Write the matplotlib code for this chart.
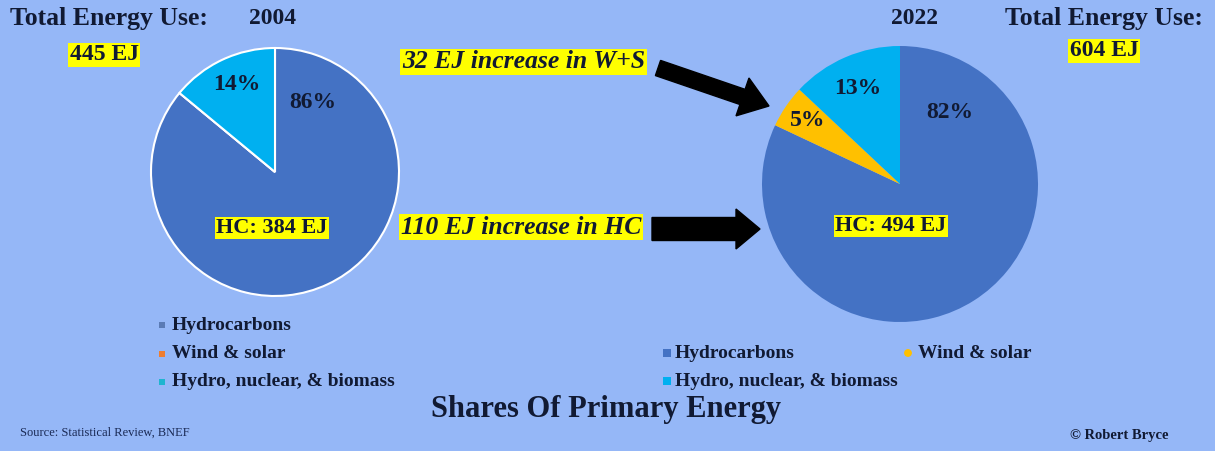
import matplotlib
matplotlib.use("Agg")
import matplotlib.pyplot as plt
from matplotlib.patches import FancyArrow

# data
categories = ['Hydrocarbons', 'Wind & solar', 'Hydro, nuclear, & biomass']
shares_2004 = [86, 0, 14]
shares_2022 = [82, 5, 13]
hc_ej = {'2004': 384, '2022': 494}
total_ej = {'2004': 445, '2022': 604}
increase_ws = 32
increase_hc = 110

colors = ['#4472C4', '#FFC000', '#00B0F0']
legend_2004_colors = ['#5B7BB5', '#ED7D31', '#1FB5D0']
bg = '#95B7F7'
W, H = 1215, 451

plt.rcParams['font.family'] = ['Liberation Serif', 'DejaVu Serif']
fig = plt.figure(figsize=(W / 100, H / 100), dpi=100, facecolor=bg)


def pie_axes(cx, cy, r):
    pa = fig.add_axes([(cx - r) / W, (H - cy - r) / H, 2 * r / W, 2 * r / H])
    pa.set_facecolor('none')
    return pa


def draw_pie(pa, shares, edge):
    pa.pie(shares, colors=colors, startangle=90, counterclock=False,
           wedgeprops=dict(edgecolor=edge, linewidth=1.5 if edge != 'none' else 0))
    pa.set_xlim(-1.0, 1.0)
    pa.set_ylim(-1.0, 1.0)
    pa.set_aspect('auto')
    pa.axis('off')


draw_pie(pie_axes(275, 172, 124), shares_2004, 'white')
draw_pie(pie_axes(900, 184, 138), shares_2022, 'none')

# overlay for all text, arrows and legend marks
ax = fig.add_axes([0, 0, 1, 1])
ax.set_xlim(0, W)
ax.set_ylim(H, 0)
ax.axis('off')

bold = dict(fontweight='bold', color='#111a33')
yellow = dict(boxstyle='square,pad=0.06', facecolor='#FFFF00', edgecolor='none')

# headers
ax.text(10, 18, 'Total Energy Use:', fontsize=18.5, ha='left', va='center', **bold)
ax.text(273, 18, '2004', fontsize=17, ha='center', va='center', **bold)
ax.text(104, 55, f"{total_ej['2004']} EJ", fontsize=17, ha='center', va='center', bbox=yellow, **bold)
ax.text(915, 18, '2022', fontsize=17, ha='center', va='center', **bold)
ax.text(1104, 19, 'Total Energy Use:', fontsize=18.5, ha='center', va='center', **bold)
ax.text(1104, 51, f"{total_ej['2022']} EJ", fontsize=17, ha='center', va='center', bbox=yellow, **bold)

# pie labels
pct = dict(fontsize=17, ha='center', va='center', **bold)
ax.text(313, 102, f'{shares_2004[0]}%', **pct)
ax.text(237, 84, f'{shares_2004[2]}%', **pct)
ax.text(272, 228, f"HC: {hc_ej['2004']} EJ", fontsize=16, ha='center', va='center', bbox=yellow, **bold)
ax.text(950, 113, f'{shares_2022[0]}%', **pct)
ax.text(808, 120, f'{shares_2022[1]}%', **pct)
ax.text(858, 88, f'{shares_2022[2]}%', **pct)
ax.text(891, 226, f"HC: {hc_ej['2022']} EJ", fontsize=16, ha='center', va='center', bbox=yellow, **bold)

# annotations with arrows
ann = dict(fontsize=18.5, fontstyle='italic', ha='left', va='center', bbox=yellow, **bold)
ax.text(402, 62, f'{increase_ws} EJ increase in W+S', **ann)
ax.text(401, 227, f'{increase_hc} EJ increase in HC', **ann)
ax.add_patch(FancyArrow(658, 68, 111, 38, width=16, head_width=40, head_length=28,
                        length_includes_head=True, color='black'))
ax.add_patch(FancyArrow(652, 229, 108, 0, width=23, head_width=40, head_length=24,
                        length_includes_head=True, color='black'))

# legends
leg = dict(fontsize=14, ha='left', va='center', **bold)
for i, y in enumerate([325, 354, 382]):
    ax.scatter(162, y, marker='s', s=22, color=legend_2004_colors[i], edgecolors='none')
    ax.text(172, y, categories[i], **leg)
ax.scatter(667, 353, marker='s', s=26, color=colors[0], edgecolors='none')
ax.text(675, 353, categories[0], **leg)
ax.scatter(908, 353, marker='o', s=32, color=colors[1], edgecolors='none')
ax.text(918, 353, categories[1], **leg)
ax.scatter(667, 381, marker='s', s=26, color=colors[2], edgecolors='none')
ax.text(675, 381, categories[2], **leg)

# title and credits
ax.text(606, 410, 'Shares Of Primary Energy', fontsize=22, ha='center', va='center', **bold)
ax.text(20, 433, 'Source: Statistical Review, BNEF', fontsize=9, ha='left', va='center', color='#1a2a55')
ax.text(1119, 435, '\u00a9 Robert Bryce', fontsize=10.5, ha='center', va='center', **bold)

fig.savefig('out.png', dpi=100, facecolor=bg)
